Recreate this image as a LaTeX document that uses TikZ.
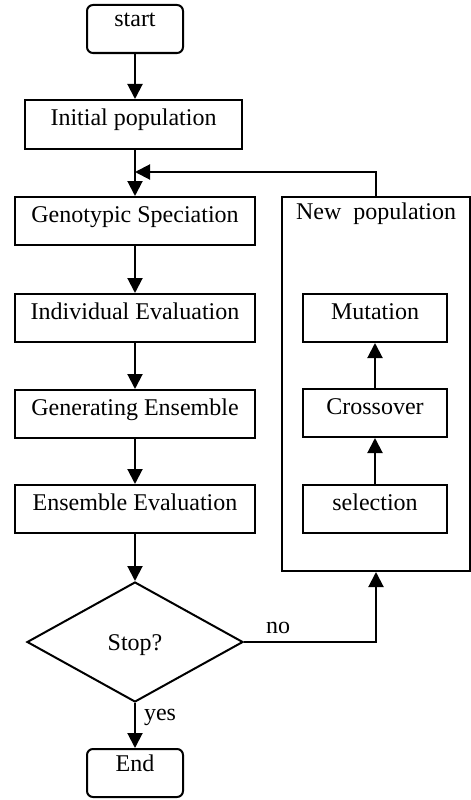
\documentclass[tikz,border=0pt]{standalone}
\usepackage{fontspec}
\setmainfont{Liberation Serif}
\usetikzlibrary{arrows.meta,shapes.geometric}
\begin{document}
\begin{tikzpicture}[x=1bp,y=-1bp,
  every node/.style={font=\fontsize{24bp}{28bp}\selectfont, line width=2bp},
  flowbox/.style={draw, rectangle, inner sep=0pt, text height=25bp, text depth=23bp},
  termbox/.style={draw, rectangle, rounded corners=6bp, inner sep=0pt, minimum width=96bp, text height=22bp, text depth=26bp},
  arr/.style={line width=2bp, -{Triangle[length=15bp,width=15bp]}}]
\useasboundingbox (0,0) rectangle (471,800);

\node[termbox] (start) at (135,29) {start};
\node[flowbox, minimum width=217bp, text depth=24bp] (init) at (133.5,124.5) {Initial population};
\node[flowbox, minimum width=240bp] (geno) at (135,221) {Genotypic Speciation};
\node[flowbox, minimum width=240bp] (indiv) at (135,318) {Individual Evaluation};
\node[flowbox, minimum width=240bp] (gen) at (135,414) {Generating Ensemble};
\node[flowbox, minimum width=240bp] (ens) at (135,509) {Ensemble Evaluation};
\node[draw, diamond, inner sep=0pt, minimum width=216bp, minimum height=120bp, text height=16bp, text depth=0pt] (dia) at (135,642) {Stop?};
\node[termbox] (end) at (135,773) {End};

\node[draw, rectangle, inner sep=0pt, minimum width=188bp, text height=23bp, text depth=351bp] (newpop) at (376,384) {New\ \ population};
\node[flowbox, minimum width=144bp] (mut) at (375,318) {Mutation};
\node[flowbox, minimum width=144bp] (cross) at (375,413) {Crossover};
\node[flowbox, minimum width=144bp] (sel) at (375,509) {selection};

\coordinate (join) at (135,172);

\draw[arr] (start.south) -- (start.south |- init.north);
\draw[arr] (geno.north |- init.south) -- (geno.north);
\draw[arr] (newpop.north) |- (join);
\draw[arr] (geno.south) -- (indiv.north);
\draw[arr] (indiv.south) -- (gen.north);
\draw[arr] (gen.south) -- (ens.north);
\draw[arr] (ens.south) -- (dia.north);
\draw[arr] (dia.south) -- (end.north);
\draw[arr] (dia.east) -| (newpop.south);
\draw[arr] (sel.north) -- (cross.south);
\draw[arr] (cross.north) -- (mut.south);

\node[anchor=base west, inner sep=0pt] (yes) at (143,720) {yes};
\node[anchor=base west, inner sep=0pt] (no) at (265,633) {no};
\end{tikzpicture}
\end{document}
